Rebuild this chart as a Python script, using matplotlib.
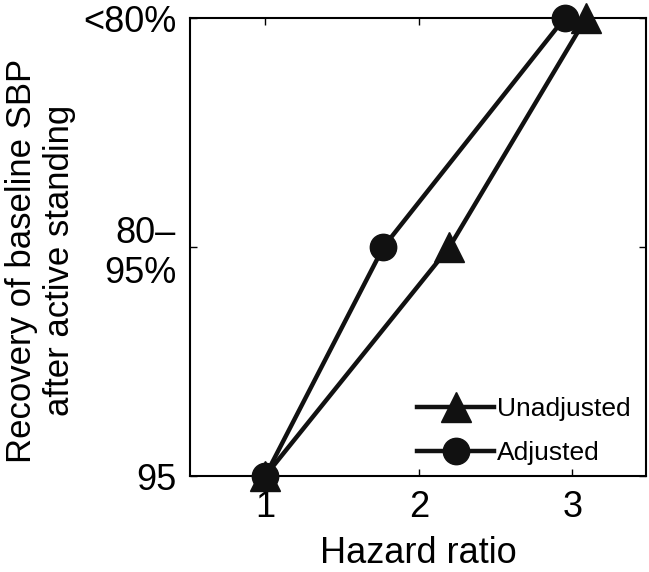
import numpy as np
import matplotlib.pyplot as plt

plt.rcParams['font.family'] = ['Liberation Sans', 'DejaVu Sans']

# categories (bottom to top)
cat_labels = ["95", "80\u2013\n95%", "<80%"]
cat_pos = [0, 1, 2]

hr_unadj = [1.0, 2.20, 3.09]
hr_adj = [1.0, 1.77, 2.95]

fig = plt.figure(figsize=(6.49, 5.72), dpi=100)
ax = fig.add_axes([190/649, 96/572, 456/649, 458/572])

ax.plot(hr_unadj, cat_pos, '-^', color='#111111', lw=3.2, ms=22, clip_on=False,
        zorder=3, label='Unadjusted')
ax.plot(hr_adj, cat_pos, '-o', color='#111111', lw=3.2, ms=19, clip_on=False,
        zorder=3, label='Adjusted')

ax.set_xlim(0.51, 3.48)
ax.set_ylim(0, 2)
ax.set_xticks([1, 2, 3])
ax.set_yticks(cat_pos)
ax.set_yticklabels(cat_labels)
ax.tick_params(direction='in', length=5, width=1, labelsize=26, pad=10,
               top=True, right=True)
for s in ax.spines.values():
    s.set_linewidth(1.5)

ax.set_xlabel('Hazard ratio', fontsize=26, labelpad=8)
ax.set_ylabel('Recovery of baseline SBP\nafter active standing', fontsize=25,
              linespacing=1.2)
ax.yaxis.set_label_coords((76 - 190) / 456, 0.47)

ax.legend(loc='lower right', frameon=False, fontsize=19, handlelength=2.9,
          handletextpad=0.1, labelspacing=0.75, borderaxespad=0.2,
          bbox_to_anchor=(1.0, -0.01))

fig.savefig('out.png', dpi=100)
